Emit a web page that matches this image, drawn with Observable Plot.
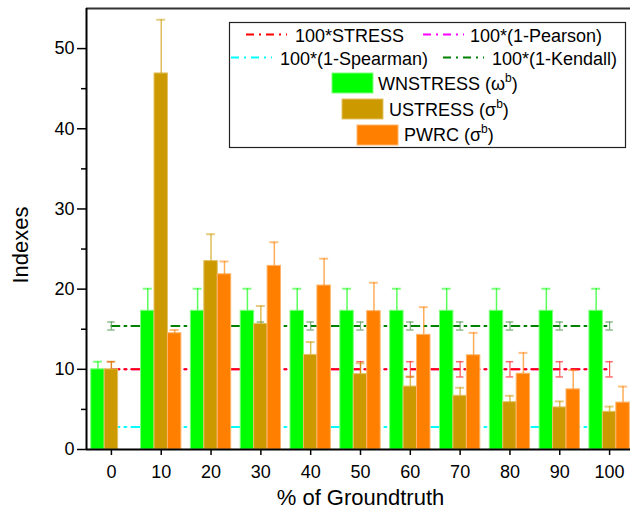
<!DOCTYPE html>
<html><head><meta charset="utf-8">
<script src="https://cdn.jsdelivr.net/npm/d3@7"></script>
<script src="https://cdn.jsdelivr.net/npm/@observablehq/plot@0.6"></script>
<style>
html,body{margin:0;padding:0;background:#fff;}
#chart{position:relative;width:630px;height:517px;overflow:hidden;}
</style></head><body><div id="chart"></div>
<script>
// ---- data ----
const pct = [0, 10, 20, 30, 40, 50, 60, 70, 80, 90, 100];
const yTicks = [0, 10, 20, 30, 40, 50];
const yMinorTicks = [5, 15, 25, 35, 45];

const wnstress    = [10, 17.3, 17.3, 17.3, 17.3, 17.3, 17.3, 17.3, 17.3, 17.3, 17.3];
const wnstressErr = [0.95, 2.75, 2.75, 2.75, 2.75, 2.75, 2.75, 2.75, 2.75, 2.75, 2.75];
const ustress     = [10, 46.9, 23.5, 15.65, 11.8, 9.4, 7.85, 6.7, 5.9, 5.25, 4.7];
const ustressErr  = [0.95, 6.7, 3.35, 2.25, 1.6, 1.35, 1.25, 1.0, 0.8, 0.75, 0.65];
const pwrc        = [null, 14.5, 21.85, 22.9, 20.45, 17.25, 14.3, 11.75, 9.45, 7.5, 5.85];
const pwrcErr     = [null, 0.4, 1.6, 2.95, 3.35, 3.55, 3.45, 2.8, 2.6, 2.4, 2.0];

const stress      = [10, 10, 10, 10, 10, 10, 10, 10, 10, 10, 10];
const stressErr   = [0.95, 0.95, 0.95, 0.95, 0.95, 0.95, 0.95, 0.95, 0.95, 0.95, 0.95];
const pearson     = [10, 10, 10, 10, 10, 10, 10, 10, 10, 10, 10];
const spearman    = [2.8, 2.8, 2.8, 2.8, 2.8, 2.8, 2.8, 2.8, 2.8, 2.8, 2.8];
const kendall     = [15.4, 15.4, 15.4, 15.4, 15.4, 15.4, 15.4, 15.4, 15.4, 15.4, 15.4];
const kendallErr  = [0.5, 0.5, 0.5, 0.5, 0.5, 0.5, 0.5, 0.5, 0.5, 0.5, 0.5];

const lineNames = ["100*STRESS", "100*(1-Pearson)", "100*(1-Spearman)", "100*(1-Kendall)"];
const barNames = ["WNSTRESS", "USTRESS", "PWRC"];
const barSymbols = ["ω", "σ", "σ"];
const xTitle = "% of Groundtruth";
const yTitle = "Indexes";

// ---- styling / layout ----
const FONT = '"Liberation Sans", Arial, Helvetica, sans-serif';
const lineColors = ["#ff0000", "#ff00ff", "#00ffff", "#008000"];
const lineErrColors = ["#ff3030", null, null, "#5a9c5a"];
const barColors = ["#00ff00", "#cc9900", "#ff8000"];
const barEdges = ["#7dff7d", "#e3c264", "#ffb56b"];
const BW = 2.7;             // bar width in x units
const offsets = [-BW, 0, BW];
const DASH = "8,5,2,5";

const barSeries = [
  {values: wnstress, err: wnstressErr},
  {values: ustress, err: ustressErr},
  {values: pwrc, err: pwrcErr}
].map((s, i) => ({...s, name: barNames[i], color: barColors[i], edge: barEdges[i], off: offsets[i]}));

const lineSeries = [
  {values: stress, err: stressErr},
  {values: pearson, err: null},
  {values: spearman, err: null},
  {values: kendall, err: kendallErr}
].map((s, i) => ({...s, name: lineNames[i], color: lineColors[i], errColor: lineErrColors[i]}));

const marks = [];

// lines (drawn first, behind the bars): Pearson, Spearman, Kendall, then STRESS on top
for (const idx of [1, 2, 3, 0]) {
  const s = lineSeries[idx];
  const rows = pct.map((p, j) => ({pct: p, v: s.values[j], e: s.err ? s.err[j] : null}));
  marks.push(Plot.line(rows, {x: "pct", y: "v", stroke: s.color, strokeWidth: 2, strokeDasharray: DASH}));
  if (s.err) {
    const er = rows.filter(d => d.e != null);
    marks.push(Plot.ruleX(er, {x: "pct", y1: d => d.v - d.e, y2: d => d.v + d.e, stroke: s.errColor, strokeWidth: 1.2, strokeOpacity: 0.8}));
    marks.push(Plot.ruleY(er, {y: d => d.v - d.e, x1: d => d.pct - 0.75, x2: d => d.pct + 0.75, stroke: s.errColor, strokeWidth: 1.5, strokeOpacity: 0.7}));
    marks.push(Plot.ruleY(er, {y: d => d.v + d.e, x1: d => d.pct - 0.75, x2: d => d.pct + 0.75, stroke: s.errColor, strokeWidth: 1.5, strokeOpacity: 0.7}));
  }
}

// bars + upward error bars
for (const s of barSeries) {
  const rows = pct.map((p, j) => ({pct: p, v: s.values[j], e: s.err[j]})).filter(d => d.v != null);
  marks.push(Plot.rect(rows, {
    x1: d => d.pct + s.off - BW / 2, x2: d => d.pct + s.off + BW / 2,
    y1: 0, y2: "v", fill: s.color, stroke: s.edge, strokeWidth: 1
  }));
  marks.push(Plot.ruleX(rows, {x: d => d.pct + s.off, y1: "v", y2: d => d.v + d.e, stroke: s.color, strokeWidth: 1.5, strokeOpacity: 0.65}));
  marks.push(Plot.ruleY(rows, {y: d => d.v + d.e, x1: d => d.pct + s.off - 0.9, x2: d => d.pct + s.off + 0.9, stroke: s.color, strokeWidth: 2, strokeOpacity: 0.5}));
}

// frame lines and axes
marks.push(Plot.ruleY([55], {stroke: "#333", strokeWidth: 2}));
marks.push(Plot.ruleX([-5], {stroke: "#000", strokeWidth: 2}));
marks.push(Plot.ruleY([0], {stroke: "#000", strokeWidth: 2}));
marks.push(Plot.axisY({ticks: yTicks, tickSize: 9, tickPadding: 3, tickFormat: d => String(d), label: null, fontSize: 18, strokeWidth: 1.5}));
marks.push(Plot.axisY({ticks: yMinorTicks, tickSize: 5, tickFormat: () => "", label: null, strokeWidth: 1.5}));
marks.push(Plot.axisX({ticks: pct, tickSize: 6, tickPadding: 10, tickFormat: d => String(d), label: null, fontSize: 18, strokeWidth: 1.5}));
marks.push(Plot.text([xTitle], {text: d => d, frameAnchor: "bottom", textAnchor: "middle", dy: 55, dx: 2, fontSize: 22}));
marks.push(Plot.text([yTitle], {text: d => d, frameAnchor: "left", textAnchor: "middle", rotate: -90, dx: -66, dy: 16, fontSize: 22}));

const svg = Plot.plot({
  width: 630, height: 517,
  marginLeft: 86, marginRight: 0, marginTop: 8, marginBottom: 68,
  style: {fontFamily: FONT, fontSize: "18px", background: "#fff", color: "#000", overflow: "hidden"},
  x: {type: "linear", domain: [-5, 105], range: [86, 634]},
  y: {type: "linear", domain: [0, 55]},
  marks
});

// ---- legend (inside plot area) ----
const g = d3.select(svg).append("g").attr("font-family", FONT).attr("font-size", 18)
  .attr("fill", "#000").attr("text-anchor", "start");
g.append("rect").attr("x", 229.5).attr("y", 22.5).attr("width", 396).attr("height", 125)
  .attr("fill", "#fff").attr("stroke", "#222").attr("stroke-width", 1.2);

const lineLayout = [
  {lx: 246, ly: 34.5, tx: 295, ty: 41.5},
  {lx: 423, ly: 34.5, tx: 470, ty: 41.5},
  {lx: 231, ly: 57.5, tx: 280, ty: 64.5},
  {lx: 443, ly: 57.5, tx: 492, ty: 64.5}
];
lineSeries.forEach((s, i) => {
  const L = lineLayout[i];
  g.append("line").attr("x1", L.lx).attr("x2", L.lx + 41).attr("y1", L.ly).attr("y2", L.ly)
    .attr("stroke", s.color).attr("stroke-width", 2).attr("stroke-dasharray", DASH);
  g.append("text").attr("x", L.tx).attr("y", L.ty).attr("text-anchor", "start").text(s.name);
});

const barLayout = [
  {rx: 332, ry: 73, tx: 378, ty: 90},
  {rx: 342, ry: 99, tx: 389, ty: 115.5},
  {rx: 357, ry: 125, tx: 404, ty: 141}
];
barSeries.forEach((s, i) => {
  const L = barLayout[i];
  g.append("rect").attr("x", L.rx).attr("y", L.ry).attr("width", 41).attr("height", 20)
    .attr("fill", s.color).attr("stroke", s.edge).attr("stroke-width", 1);
  const t = g.append("text").attr("x", L.tx).attr("y", L.ty).attr("text-anchor", "start");
  t.append("tspan").text(s.name + " (" + barSymbols[i]);
  t.append("tspan").attr("font-size", 12).attr("dy", -8).text("b");
  t.append("tspan").attr("dy", 8).text(")");
});

document.getElementById("chart").appendChild(svg);
</script>
</body></html>
